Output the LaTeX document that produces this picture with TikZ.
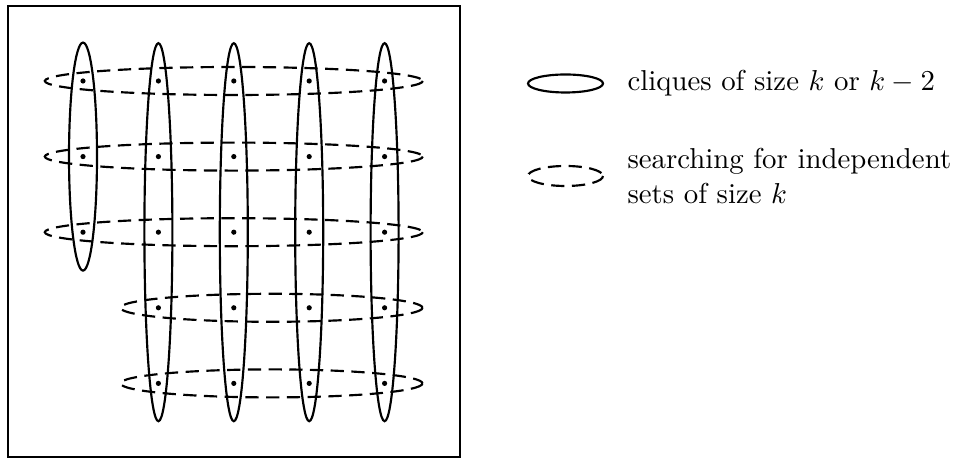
\documentclass[tikz,border=0pt]{standalone}
\usetikzlibrary{calc}
\begin{document}
\begin{tikzpicture}[x=0.3472pt,y=-0.3472pt,
  lw/.style={line width=0.75pt},
  clique/.style={lw},
  search/.style={lw,dash pattern=on 4.6pt off 2.6pt},
  vtx/.style={circle,fill=black,inner sep=0pt,minimum size=1.8pt},
  lbl/.style={anchor=west,align=left,inner sep=0pt,font=\normalsize}]
\useasboundingbox (0,0) rectangle (956,460);
\draw[lw] (8,6) rectangle (460,457);
% vertices
\foreach \i in {1,...,5}{
  \foreach \j in {1,...,5}{
    \pgfmathsetmacro{\xx}{83+75.4*(\i-1)}
    \pgfmathsetmacro{\yy}{81+75.6*(\j-1)}
    \ifnum\i=1 \ifnum\j>3 \else \node[vtx] (v\i\j) at (\xx,\yy) {};\fi
    \else \node[vtx] (v\i\j) at (\xx,\yy) {};\fi
  }}
% cliques (vertical)
\draw[clique] (v12) ellipse [x radius=14, y radius=114];
\foreach \i in {2,...,5}{
  \draw[clique] (v\i3) ellipse [x radius=14, y radius=189];
}
% searches (horizontal)
\foreach \j in {1,2,3}{
  \draw[search] (v3\j) ellipse [x radius=189, y radius=14];
}
\foreach \j in {4,5}{
  \draw[search] ($(v3\j)!0.5!(v4\j)$) ellipse [x radius=151, y radius=14];
}
% legend
\coordinate (l1) at (565.5,83.5);
\coordinate (l2) at (565.5,176);
\draw[clique] (l1) ellipse [x radius=37.5, y radius=9];
\draw[search] (l2) ellipse [x radius=37.5, y radius=10];
\node[lbl] (t1) at (627,83.5) {cliques of size $k$ or $k-2$};
\node[lbl] (t2) at (627,176) {searching for independent\\sets of size $k$};
\end{tikzpicture}
\end{document}
